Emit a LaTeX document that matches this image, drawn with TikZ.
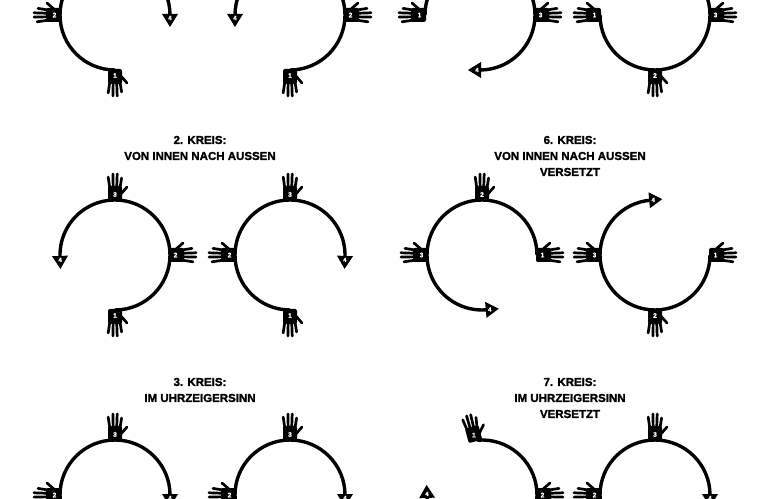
\documentclass[tikz,border=0pt]{standalone}
\usepackage{fontspec}
\setmainfont{Liberation Sans}
\newfontfamily\heavyfont{Liberation Sans Bold}[FakeBold=1.6]
\usetikzlibrary{calc}
\newcommand\kreisarc[5]{% center, start, end, arrow rotation offset, name
  \coordinate (#5) at #1;
  \draw[arcline] (#5) ++(#2:55) arc[start angle=#2, end angle=#3, radius=55];
  \pic[rotate=#3#4] at ($(#5)+(#3:55)$) {arrowhd=4};
}
\newcommand\kreishand[3]{% center name, angle, number
  \pic[rotate=#2-90] at ($(#1)+(#2:55)$) {hand=#3};
}
\newcommand\kreishandm[3]{% mirrored hand
  \pic[rotate=#2-90,xscale=-1] at ($(#1)+(#2:55)$) {hand=#3};
}
\begin{document}
\begin{tikzpicture}[x=1pt,y=1pt,
  arcline/.style={line width=3.4pt},
  titletext/.style={font=\heavyfont\fontsize{11.5}{16}\selectfont, align=center},
  hand/.pic={
    \fill[rounded corners=2pt] (-7,-1) -- (-7,14) -- (7,14) -- (7,-1) -- cycle;
    \draw[line width=2.7pt,line cap=round] (-5.2,12) -- (-6.8,23) (-1.8,12) -- (-2.1,26) (1.7,12) -- (2.2,26) (5,12) -- (6.6,22);
    \draw[line width=2.7pt,line cap=round] (5,5) -- (12,13);
    \node[text=white,font=\heavyfont\fontsize{6.5}{6}\selectfont,inner sep=0pt] at (0,5.5) {#1};
  },
  arrowhd/.pic={
    \fill (-1,-8) -- (-1,8) -- (12,0) -- cycle;
    \node[text=white,font=\heavyfont\fontsize{6}{6}\selectfont,inner sep=0pt] at (3,0) {#1};
  }]
\useasboundingbox (0,0) rectangle (768,498);
\clip (0,0) rectangle (768,498);
% Panel 1
\kreisarc{(115,483)}{270}{0}{-90}{a1}
\kreishand{a1}{180}{2}\kreishandm{a1}{270}{1}
\kreisarc{(290,483)}{-90}{180}{+90}{b1}
\kreishandm{b1}{0}{2}\kreishandm{b1}{-90}{1}
% Panel 2
\node[titletext] (t2) at (200,350) {2. KREIS:\\VON INNEN NACH AUSSEN};
\kreisarc{(115,243)}{-90}{182}{+90}{a2}
\kreishandm{a2}{-90}{1}\kreishandm{a2}{0}{2}\kreishand{a2}{90}{3}
\kreisarc{(290,243)}{270}{-2}{-90}{b2}
\kreishandm{b2}{-90}{1}\kreishand{b2}{180}{2}\kreishand{b2}{90}{3}
% Panel 3
\node[titletext] (t3) at (200,108) {3. KREIS:\\IM UHRZEIGERSINN};
\kreisarc{(115,3)}{270}{0}{-90}{a3}
\kreishand{a3}{180}{2}\kreishand{a3}{90}{3}
\kreisarc{(290,3)}{270}{0}{-90}{b3}
\kreishand{b3}{180}{2}\kreishand{b3}{90}{3}
% Panel 5
\kreisarc{(480,483)}{180}{-90}{-90}{a5}
\kreishand{a5}{180}{1}\kreishandm{a5}{0}{3}
\kreisarc{(655,483)}{180}{450}{+90}{b5}
\kreishand{b5}{180}{1}\kreishandm{b5}{270}{2}\kreishandm{b5}{360}{3}
% Panel 6
\node[titletext] (t6) at (570,342) {6. KREIS:\\VON INNEN NACH AUSSEN\\VERSETZT};
\kreisarc{(482,243)}{0}{275}{+90}{a6}
\kreishandm{a6}{0}{1}\kreishand{a6}{90}{2}\kreishand{a6}{180}{3}
\kreisarc{(655,243)}{0}{-265}{-90}{b6}
\kreishandm{b6}{0}{1}\kreishandm{b6}{-90}{2}\kreishand{b6}{-180}{3}
% Panel 7
\node[titletext] (t7) at (570,100) {7. KREIS:\\IM UHRZEIGERSINN\\VERSETZT};
\kreisarc{(482,3)}{95}{-178}{-90}{a7}
\pic[rotate=15] at ($(a7)+(97:55)$) {hand=1};
\kreishandm{a7}{0}{2}
\kreisarc{(655,3)}{270}{0}{-90}{b7}
\kreishand{b7}{180}{2}\kreishand{b7}{90}{3}
\end{tikzpicture}
\end{document}
